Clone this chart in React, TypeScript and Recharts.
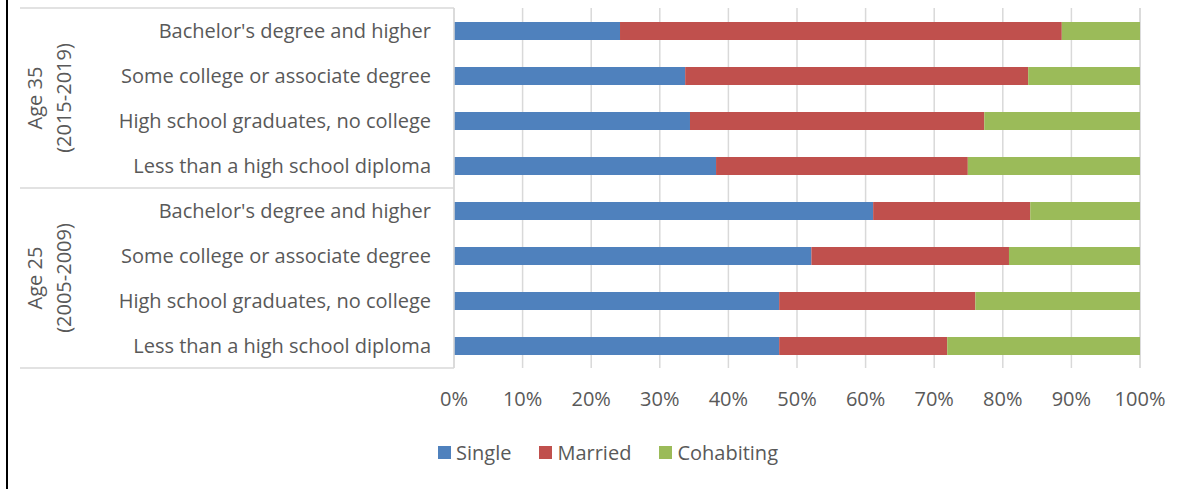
import React from 'react';
import { BarChart, Bar, XAxis, YAxis, CartesianGrid, Legend } from 'recharts';

const education = [
  "Bachelor's degree and higher",
  'Some college or associate degree',
  'High school graduates, no college',
  'Less than a high school diploma',
];
const groups = [
  { age: 'Age 35', years: '(2015-2019)' },
  { age: 'Age 25', years: '(2005-2009)' },
];

// percent shares, top to bottom within each group
const single35 = [24.2, 33.7, 34.4, 38.2];
const married35 = [64.4, 50.0, 42.9, 36.7];
const cohab35 = [11.4, 16.3, 22.7, 25.1];
const single25 = [61.1, 52.1, 47.4, 47.4];
const married25 = [22.9, 28.8, 28.6, 24.5];
const cohab25 = [16.0, 19.1, 24.0, 28.1];

const xTicks = [0, 10, 20, 30, 40, 50, 60, 70, 80, 90, 100];

const series = [
  { key: 'single', name: 'Single', color: '#4F81BD' },
  { key: 'married', name: 'Married', color: '#C0504D' },
  { key: 'cohabiting', name: 'Cohabiting', color: '#9BBB59' },
];

const data = [
  ...education.map((label, i) => ({
    id: `35-${i}`,
    label,
    single: single35[i],
    married: married35[i],
    cohabiting: cohab35[i],
  })),
  ...education.map((label, i) => ({
    id: `25-${i}`,
    label,
    single: single25[i],
    married: married25[i],
    cohabiting: cohab25[i],
  })),
];

const FONT = '"Open Sans", sans-serif';
const FS = 20;
const TEXT = '#595959';
const LINE = '#d9d9d9';
const BAND = 45;

const CategoryTick = (props: any) => {
  const { x, y, index } = props;
  const row = data[index];
  const perGroup = education.length;
  const isGroupStart = index % perGroup === 0;
  const group = groups[Math.floor(index / perGroup)];
  const groupCenter = y + (BAND * (perGroup - 1)) / 2;
  return (
    <g>
      <text
        x={x - 23}
        y={y}
        dy="0.36em"
        textAnchor="end"
        fill={TEXT}
        fontSize={FS}
        fontFamily={FONT}
      >
        {row ? row.label : ''}
      </text>
      {isGroupStart && (
        <>
          <line x1={20} x2={x} y1={y - BAND / 2} y2={y - BAND / 2} stroke={LINE} strokeWidth={1.5} />
          <text
            transform={`translate(0,${groupCenter}) rotate(-90)`}
            textAnchor="middle"
            fill={TEXT}
            fontSize={FS}
            fontFamily={FONT}
          >
            <tspan x={0} y={42}>{group.age}</tspan>
            <tspan x={0} y={71}>{group.years}</tspan>
          </text>
        </>
      )}
      {index === data.length - 1 && (
        <line x1={20} x2={x} y1={y + BAND / 2} y2={y + BAND / 2} stroke={LINE} strokeWidth={1.5} />
      )}
    </g>
  );
};

const LegendContent = () => (
  <div style={{ display: 'flex', alignItems: 'center', height: 29, fontFamily: FONT, fontSize: FS, color: TEXT }}>
    {series.map((s) => (
      <div key={s.key} style={{ display: 'flex', alignItems: 'center', marginRight: 28 }}>
        <span style={{ display: 'inline-block', width: 13, height: 13, background: s.color, marginRight: 5 }} />
        <span>{s.name}</span>
      </div>
    ))}
  </div>
);

export default function App() {
  return (
    <div style={{ position: 'absolute', left: 0, top: 0, width: 1202, height: 489, background: '#fff' }}>
      <div style={{ position: 'absolute', left: 6, top: 0, width: 2, height: 489, background: '#000' }} />
      <BarChart
        width={1202}
        height={489}
        layout="vertical"
        data={data}
        margin={{ top: 8, right: 62, left: 0, bottom: 0 }}
        barSize={18}
      >
        <CartesianGrid horizontal={false} stroke={LINE} strokeWidth={1.5} />
        <XAxis
          type="number"
          domain={[0, 100]}
          ticks={xTicks}
          tickFormatter={(v) => `${v}%`}
          axisLine={false}
          tickLine={false}
          tickSize={0}
          tickMargin={24}
          height={70}
          tick={{ fill: TEXT, fontSize: FS, fontFamily: FONT }}
        />
        <YAxis
          type="category"
          dataKey="id"
          width={454}
          axisLine={{ stroke: LINE, strokeWidth: 1.5 }}
          tickLine={false}
          tickSize={0}
          tickMargin={0}
          interval={0}
          tick={<CategoryTick />}
        />
        <Legend
          verticalAlign="bottom"
          align="left"
          height={51}
          wrapperStyle={{ left: 438 }}
          content={<LegendContent />}
        />
        {series.map((s) => (
          <Bar key={s.key} dataKey={s.key} name={s.name} stackId="a" fill={s.color} isAnimationActive={false} />
        ))}
      </BarChart>
    </div>
  );
}
